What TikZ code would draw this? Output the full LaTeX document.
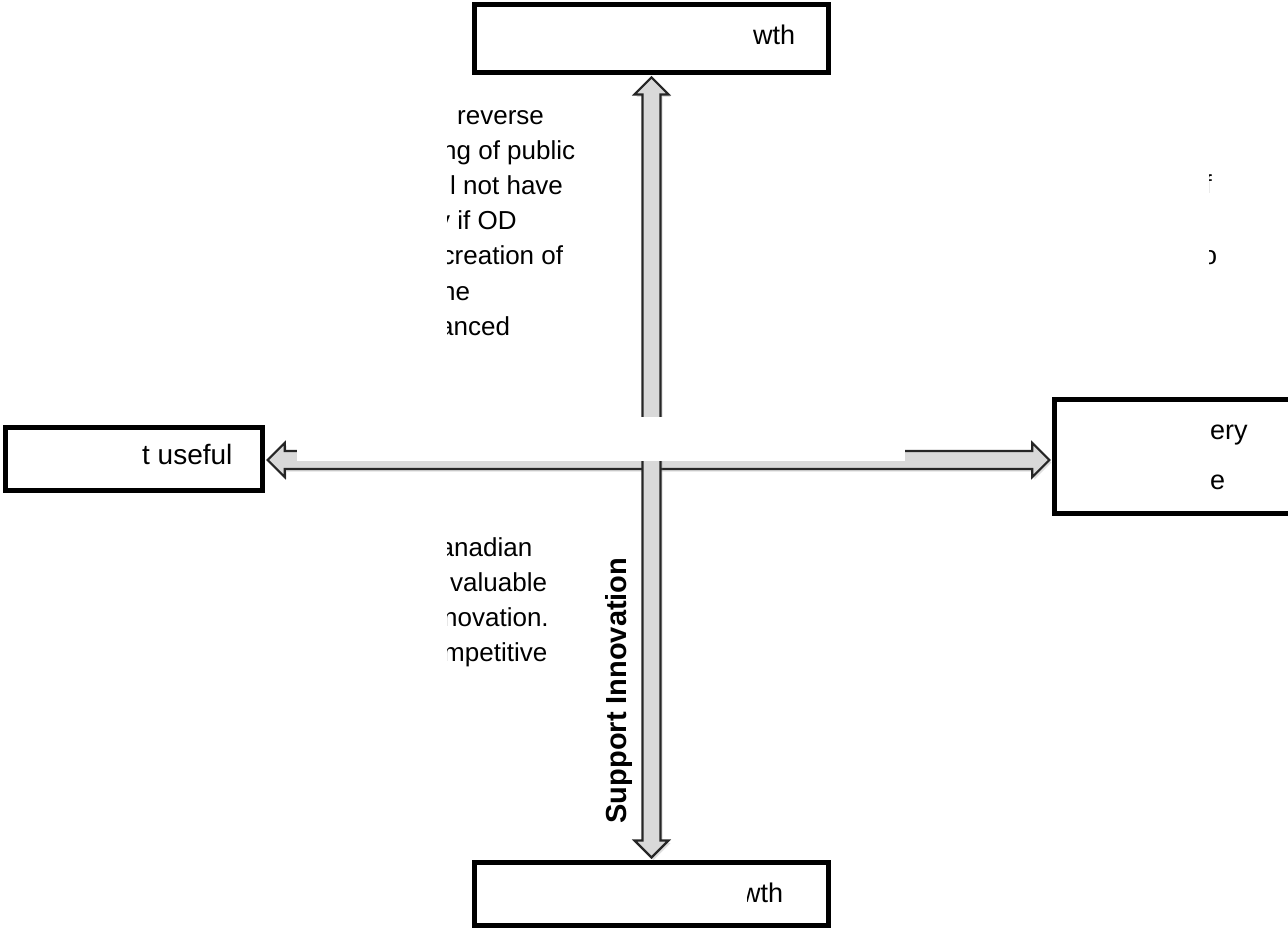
\documentclass[tikz,border=0pt]{standalone}
\usepackage{fontspec}
\setmainfont{Liberation Sans}
\usetikzlibrary{calc,shadows}
\begin{document}
\begin{tikzpicture}[x=1pt,y=-1pt,
  box/.style={draw=black, line width=4.8pt, fill=white, inner sep=0pt},
  txt/.style={inner sep=0pt, anchor=base west, font=\fontsize{26}{35}\selectfont},
  boxtxt/.style={inner sep=0pt, anchor=base west, font=\fontsize{27}{35}\selectfont},
  bigarrow/.style={fill=gray!30, draw=black!85, line width=2.2pt, line join=miter,
    drop shadow={opacity=0.25, shadow xshift=2pt, shadow yshift=-2.5pt}}
]
\clip (0,0) rectangle (1288,930);

% the four boxes
\node[box, minimum width=354.2pt, minimum height=68pt] (top) at (651.5,38.5) {};
\node[box, minimum width=354.2pt, minimum height=63.2pt] (bottom) at (651.5,894) {};
\node[box, minimum width=257.5pt, minimum height=63.5pt] (left) at (134,459) {};
\node[box, minimum width=245.75pt, minimum height=114.5pt] (right) at (1177.1,456.5) {};

% arrow ends
\coordinate (L) at ($(left.east)+(2.5,1)$);
\coordinate (R) at ($(right.west)+(-2.5,3.5)$);
\coordinate (T) at ($(top.south)+(0,2.5)$);
\coordinate (B) at ($(bottom.north)+(0,-2.5)$);

% horizontal double arrow
\draw[bigarrow] (L) -- ($(L)+(17,-17)$) -- ($(L)+(17,-9)$) -- ($(R)+(-17,-9)$)
  -- ($(R)+(-17,-17)$) -- (R) -- ($(R)+(-17,17)$) -- ($(R)+(-17,9)$)
  -- ($(L)+(17,9)$) -- ($(L)+(17,17)$) -- cycle;

% vertical double arrow
\draw[bigarrow] (T) -- ($(T)+(17,17)$) -- ($(T)+(9,17)$) -- ($(B)+(9,-17)$)
  -- ($(B)+(17,-17)$) -- (B) -- ($(B)+(-17,-17)$) -- ($(B)+(-9,-17)$)
  -- ($(T)+(-9,17)$) -- ($(T)+(-17,17)$) -- cycle;

% blank label patch over the horizontal arrow
\fill[white] (297,417) rectangle (905,460.5);

% box texts
\node[boxtxt] (toptxt) at (753,44) {wth};
\node[boxtxt, font=\fontsize{28}{35}\selectfont] (lefttxt) at (142,464) {t useful};
\node[boxtxt] (righttxt1) at (1210,439) {ery};
\node[boxtxt] (righttxt2) at (1210,489) {e};
\begin{scope}
  \clip (747,870) rectangle (828,924);
  \node[boxtxt] (bottxt) at (741,902) {wth};
\end{scope}

% upper left text block
\begin{scope}
  \clip (447,90) rectangle (630,350);
  \node[txt] (u1) at (457,124) {reverse};
  \node[txt] (u2) at (442,159.5) {ng of public};
  \node[txt] (u3) at (450,194) {l not have};
  \node[txt] (u4) at (437,229) {y if OD};
  \node[txt] (u5) at (441.5,264) {creation of};
  \node[txt] (u6) at (441,300) {ne};
  \node[txt] (u7) at (439,335) {anced};
\end{scope}

% lower left text block
\begin{scope}
  \clip (447,520) rectangle (600,680);
  \node[txt] (d1) at (439.5,556.5) {anadian};
  \node[txt] (d2) at (450,591.5) {valuable};
  \node[txt] (d3) at (443,626.5) {novation.};
  \node[txt] (d4) at (443,661.5) {mpetitive};
\end{scope}

% upper right text block
\begin{scope}
  \clip (1209,150) rectangle (1288,280);
  \node[txt] (r1) at (1204.5,193) {f};
  \node[txt] (r2) at (1202.5,264) {o};
\end{scope}

% label along the lower arrow
\node[inner sep=0pt, rotate=90, font=\bfseries\fontsize{29}{32}\selectfont] (innov) at (619,690.5) {Support Innovation};
\end{tikzpicture}
\end{document}
